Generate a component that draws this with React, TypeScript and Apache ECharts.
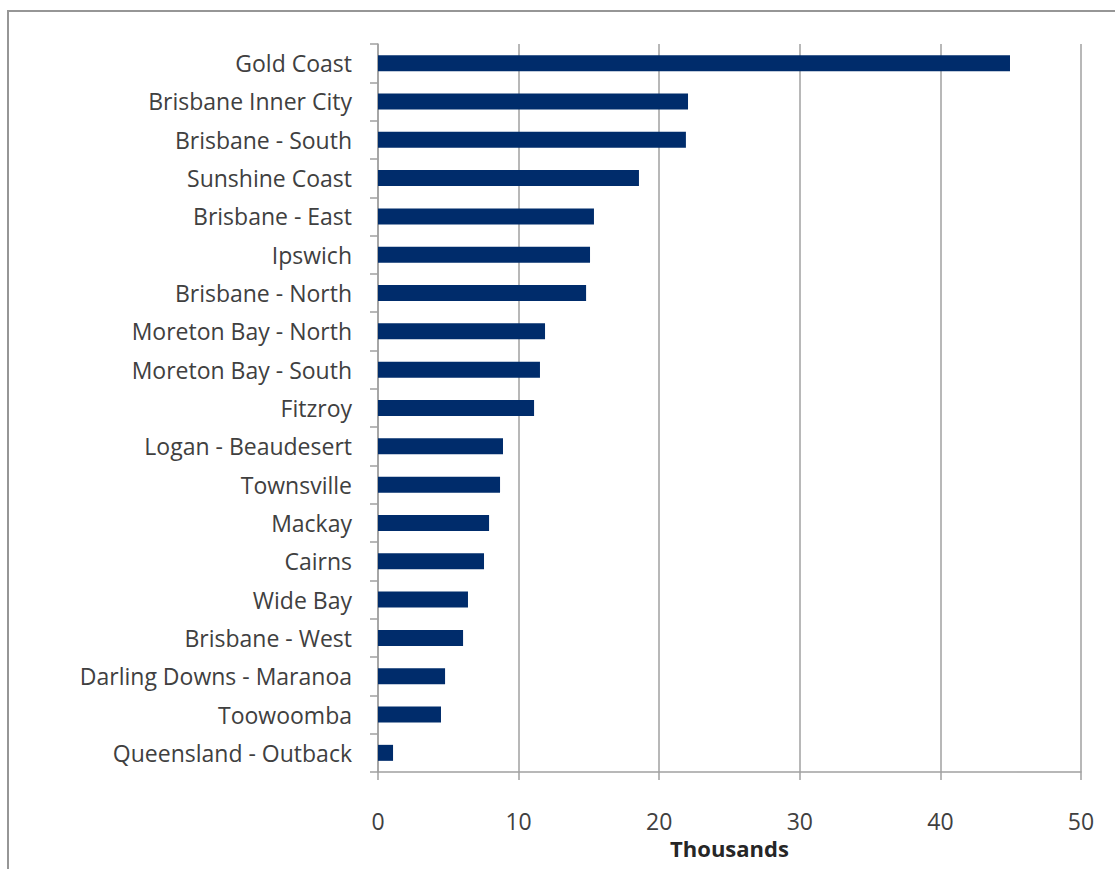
import React, { useEffect, useRef } from "react";
import * as echarts from "echarts";

const categories = [
  "Gold Coast",
  "Brisbane Inner City",
  "Brisbane - South",
  "Sunshine Coast",
  "Brisbane - East",
  "Ipswich",
  "Brisbane - North",
  "Moreton Bay - North",
  "Moreton Bay - South",
  "Fitzroy",
  "Logan - Beaudesert",
  "Townsville",
  "Mackay",
  "Cairns",
  "Wide Bay",
  "Brisbane - West",
  "Darling Downs - Maranoa",
  "Toowoomba",
  "Queensland - Outback",
];

const values = [
  44.95, 22.05, 21.9, 18.56, 15.36, 15.08, 14.8, 11.88, 11.52, 11.1, 8.89, 8.68,
  7.9, 7.54, 6.4, 6.05, 4.77, 4.48, 1.07,
];

const xTicks = { min: 0, max: 50, interval: 10 };
const axisTitle = "Thousands";

export default function App() {
  const ref = useRef<HTMLDivElement>(null);
  useEffect(() => {
    if (!ref.current) return;
    const chart = echarts.init(ref.current, null, { renderer: "svg" });
    const font = "'Open Sans', 'Liberation Sans', sans-serif";
    chart.setOption({
      animation: false,
      textStyle: { fontFamily: font },
      graphic: [
        {
          type: "rect",
          shape: { x: 8, y: 11, width: 1200, height: 1000 },
          style: { fill: "none", stroke: "#969696", lineWidth: 2 },
          silent: true,
        },
      ],
      grid: { left: 378, top: 44, right: 34, bottom: 97, containLabel: false },
      xAxis: {
        type: "value",
        min: xTicks.min,
        max: xTicks.max,
        interval: xTicks.interval,
        name: axisTitle,
        nameLocation: "middle",
        nameGap: 60,
        nameTextStyle: {
          fontFamily: font,
          fontSize: 22,
          fontWeight: "bold",
          color: "#262626",
        },
        axisLine: { show: true, lineStyle: { color: "#a0a0a0", width: 1.5 } },
        axisTick: { show: true, length: 8, lineStyle: { color: "#a0a0a0", width: 1.5 } },
        axisLabel: { fontSize: 23, color: "#404040", margin: 37, fontFamily: font },
        splitLine: { show: true, lineStyle: { color: "#a0a0a0", width: 1.5 } },
      },
      yAxis: {
        type: "category",
        data: categories,
        inverse: true,
        axisLine: { show: true, lineStyle: { color: "#a0a0a0", width: 1.5 } },
        axisTick: { show: true, length: 8, lineStyle: { color: "#a0a0a0", width: 1.5 } },
        axisLabel: { fontSize: 23, color: "#404040", margin: 26, fontFamily: font },
        splitLine: { show: false },
      },
      series: [
        {
          type: "bar",
          data: values,
          barWidth: 16,
          itemStyle: { color: "#002C6B" },
        },
      ],
    });
    return () => chart.dispose();
  }, []);
  return (
    <div
      ref={ref}
      style={{ position: "absolute", left: 0, top: 0, width: 1115, height: 869, background: "#fff" }}
    />
  );
}
